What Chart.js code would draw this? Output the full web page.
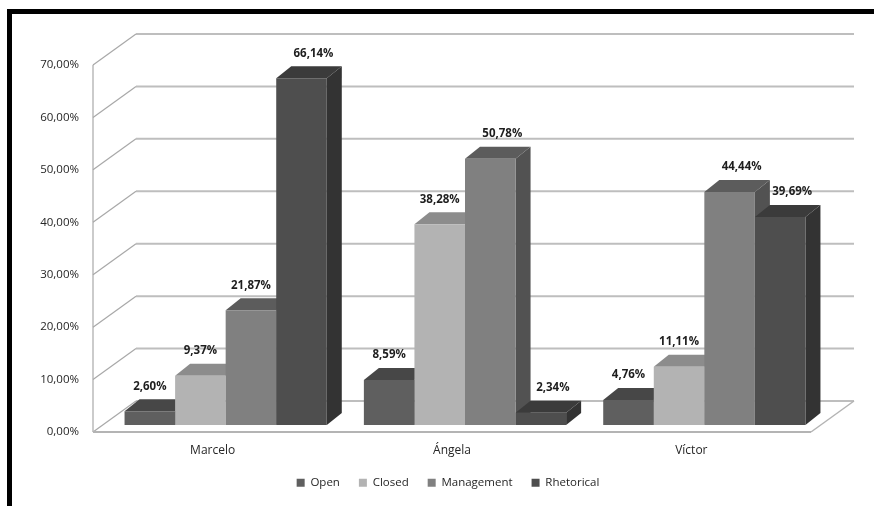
<!DOCTYPE html>
<html>
<head>
<meta charset="utf-8">
<title>Question types by speaker</title>
<script src="https://cdn.jsdelivr.net/npm/chart.js@4.4.1/dist/chart.umd.min.js"></script>
<style>
    html, body { margin: 0; padding: 0; background: #fff; }
    canvas { display: block; }
</style>
</head>
<body>
<canvas id="questionsChart" width="874" height="506"></canvas>
<script>
// Data
const speakers = ['Marcelo', 'Ángela', 'Víctor'];
const seriesNames = ['Open', 'Closed', 'Management', 'Rhetorical'];
const openValues = [2.60, 8.59, 4.76];
const closedValues = [9.37, 38.28, 11.11];
const managementValues = [21.87, 50.78, 44.44];
const rhetoricalValues = [66.14, 2.34, 39.69];
const yTicks = [0, 10, 20, 30, 40, 50, 60, 70];

// Face colours per series (front, top, side)
const faces = [
    { front: '#5f5f5f', top: '#474747', side: '#3c3c3c' },
    { front: '#b3b3b3', top: '#8c8c8c', side: '#7a7a7a' },
    { front: '#808080', top: '#5c5c5c', side: '#525252' },
    { front: '#4e4e4e', top: '#3b3b3b', side: '#333333' }
];

// 3D offsets in pixels
const BAR_DX = 15, BAR_DY = 12;        // depth of each column
const FRONT = { x: -13, y: 7 };        // front edge of the floor, relative to the columns
const BACK = { x: 30, y: -24 };        // back wall, relative to the columns

const FONT = '"Open Sans", "DejaVu Sans", sans-serif';

function pct(v) {
    return v.toFixed(2).replace('.', ',') + '%';
}

function line(ctx, x1, y1, x2, y2) {
    ctx.beginPath();
    ctx.moveTo(x1, y1);
    ctx.lineTo(x2, y2);
    ctx.stroke();
}

function poly(ctx, pts, color) {
    ctx.beginPath();
    ctx.moveTo(pts[0][0], pts[0][1]);
    for (let i = 1; i < pts.length; i++) ctx.lineTo(pts[i][0], pts[i][1]);
    ctx.closePath();
    ctx.fillStyle = color;
    ctx.fill();
}

// White page with the black frame on the top and left edges
const framePlugin = {
    id: 'frame',
    afterLayout(chart) {
        // legend sits a little right of the canvas centre
        chart.legend.left += 36;
        chart.legend.right += 36;
    },
    beforeDraw(chart) {
        const ctx = chart.ctx;
        ctx.save();
        ctx.fillStyle = '#ffffff';
        ctx.fillRect(0, 0, chart.width, chart.height);
        ctx.fillStyle = '#000000';
        ctx.fillRect(7, 9, chart.width - 7, 5);
        ctx.fillRect(7, 9, 5, chart.height - 9);
        ctx.restore();
    }
};

// Walls, floor and the top/side faces of the columns
const box3dPlugin = {
    id: 'box3d',
    beforeDatasetsDraw(chart) {
        const ctx = chart.ctx;
        const area = chart.chartArea;
        const y = chart.scales.y;
        const y0 = y.getPixelForValue(0);
        const yMax = y.getPixelForValue(yTicks[yTicks.length - 1]);

        ctx.save();
        // back wall gridlines
        ctx.strokeStyle = '#bebebe';
        ctx.lineWidth = 2;
        yTicks.forEach(function(t) {
            const py = y.getPixelForValue(t) + BACK.y;
            line(ctx, area.left + BACK.x, py, area.right + BACK.x, py);
        });

        // side wall
        ctx.strokeStyle = '#a8a8a8';
        ctx.lineWidth = 1.2;
        yTicks.forEach(function(t) {
            const py = y.getPixelForValue(t);
            line(ctx, area.left + FRONT.x, py + FRONT.y, area.left + BACK.x, py + BACK.y);
        });
        line(ctx, area.left + FRONT.x, y0 + FRONT.y, area.left + FRONT.x, yMax + FRONT.y);

        // floor
        ctx.strokeStyle = '#b4b4b4';
        ctx.lineWidth = 2;
        line(ctx, area.left + FRONT.x, y0 + FRONT.y, area.right + FRONT.x, y0 + FRONT.y);
        ctx.lineWidth = 1.5;
        line(ctx, area.right + FRONT.x, y0 + FRONT.y, area.right + BACK.x, y0 + BACK.y);

        // column tops and sides, left to right
        speakers.forEach(function(_, i) {
            chart.data.datasets.forEach(function(ds, d) {
                const el = chart.getDatasetMeta(d).data[i];
                const p = el.getProps(['x', 'y', 'base', 'width'], true);
                const l = p.x - p.width / 2;
                const r = p.x + p.width / 2;
                poly(ctx, [[r, p.y], [r + BAR_DX, p.y - BAR_DY], [r + BAR_DX, p.base - BAR_DY], [r, p.base]], faces[d].side);
                poly(ctx, [[l, p.y], [r, p.y], [r + BAR_DX, p.y - BAR_DY], [l + BAR_DX, p.y - BAR_DY]], faces[d].top);
            });
        });
        ctx.restore();
    },
    afterDatasetsDraw(chart) {
        // value labels above the columns; pushed right when nothing taller stands next to them
        const ctx = chart.ctx;
        const sets = chart.data.datasets;
        ctx.save();
        ctx.font = 'bold 11.5px ' + FONT;
        ctx.fillStyle = '#1e1e1e';
        ctx.textAlign = 'center';
        ctx.textBaseline = 'middle';
        sets.forEach(function(ds, d) {
            chart.getDatasetMeta(d).data.forEach(function(el, i) {
                const p = el.getProps(['x', 'y'], true);
                const next = sets[d + 1];
                const shift = (next && next.data[i] > ds.data[i]) ? 0 : 12;
                ctx.fillText(pct(ds.data[i]), p.x + shift, p.y - 25);
            });
        });
        ctx.restore();
    }
};

const seriesValues = [openValues, closedValues, managementValues, rhetoricalValues];

new Chart(document.getElementById('questionsChart'), {
    type: 'bar',
    data: {
        labels: speakers,
        datasets: seriesNames.map(function(name, d) {
            return {
                label: name,
                data: seriesValues[d],
                backgroundColor: faces[d].front,
                borderWidth: 0,
                categoryPercentage: 0.845,
                barPercentage: 1.0
            };
        })
    },
    options: {
        responsive: false,
        animation: false,
        layout: {
            padding: { top: 58, right: 50, bottom: 7.5, left: 0 }
        },
        scales: {
            x: {
                grid: { display: false, drawTicks: false },
                border: { display: false },
                ticks: {
                    color: '#262626',
                    font: { family: FONT, size: 12 },
                    padding: 18,
                    labelOffset: -13
                },
                afterFit: function(scale) { scale.height = 33; }
            },
            y: {
                min: 0,
                max: 70,
                grid: { display: false, drawTicks: false },
                border: { display: false },
                ticks: {
                    stepSize: 10,
                    color: '#262626',
                    font: { family: FONT, size: 11.5 },
                    padding: 27,
                    labelOffset: 7,
                    callback: function(v) { return pct(v); }
                },
                afterFit: function(scale) { scale.width = 106; }
            }
        },
        plugins: {
            legend: {
                position: 'bottom',
                labels: {
                    boxWidth: 8,
                    boxHeight: 8,
                    padding: 19,
                    color: '#262626',
                    font: { family: FONT, size: 11.5 }
                }
            },
            tooltip: { enabled: false }
        }
    },
    plugins: [framePlugin, box3dPlugin]
});
</script>
</body>
</html>
